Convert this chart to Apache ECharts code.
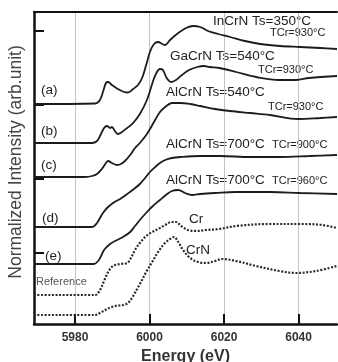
<!DOCTYPE html>
<html>
<head>
<meta charset="utf-8">
<script src="https://cdn.jsdelivr.net/npm/echarts@6/dist/echarts.min.js"></script>
<style>
  html, body { margin: 0; padding: 0; background: #fff; }
  #chart-xanes { width: 338px; height: 362px; }
</style>
</head>
<body>
<div id="chart-xanes"></div>
<script>
// energy (eV), intensity (arb. unit, offset per spectrum)
const energyTicks = [5980, 6000, 6020, 6040];
const intensityTicks = [74, 148, 222, 296];

const spectrumA = [
  [5969, 223], [5985.4, 223.5], [5986.7, 227], [5987.5, 235], [5988.3, 244], [5988.9, 245],
  [5989.9, 242], [5991.5, 238], [5993.2, 235], [5994.2, 234.5], [5995.6, 238], [5996.9, 242],
  [5998.0, 249], [5999.1, 262], [6000.1, 275], [6001.2, 283], [6002.3, 285], [6003.4, 283],
  [6004.2, 282], [6005.5, 287], [6007.7, 294], [6009.8, 299], [6011.7, 301], [6013.6, 300],
  [6015.7, 296], [6018.4, 293], [6021.6, 290], [6025.6, 286], [6029.7, 283], [6035, 281],
  [6040.4, 280], [6045.8, 279], [6050.3, 278]
];
const spectrumB = [
  [5969, 184], [5984.6, 184], [5985.9, 186], [5986.7, 191], [5987.8, 199], [5988.6, 201],
  [5989.4, 199], [5989.9, 200], [5990.7, 196], [5991.5, 193], [5992.6, 195], [5994.0, 199],
  [5995.6, 204], [5997.4, 213], [5999.3, 227], [6000.7, 243], [6001.7, 253], [6002.8, 258],
  [6003.6, 257], [6004.6, 249], [6005.8, 245], [6007.1, 247], [6008.7, 252], [6010.6, 257],
  [6012.8, 260], [6014.6, 261], [6016.2, 260], [6018.7, 259], [6023.2, 255], [6028.6, 250],
  [6034.8, 247], [6039.3, 247], [6042.8, 249], [6050.3, 251]
];
const spectrumC = [
  [5969, 150], [5982.7, 150], [5984.6, 151], [5985.9, 153], [5987.2, 158], [5988.3, 164],
  [5988.9, 166], [5989.9, 164], [5991.3, 162], [5992.3, 163], [5993.4, 166], [5994.8, 172],
  [5996.1, 179], [5997.4, 184], [5999.3, 193], [6001.5, 207], [6002.8, 215], [6004.2, 220],
  [6006, 224], [6008.2, 224], [6010.9, 223], [6013.6, 221], [6017.6, 218], [6021.6, 216],
  [6027, 214], [6032.3, 212], [6040, 208], [6045.8, 209], [6050.3, 210]
];
const spectrumD = [
  [5969, 100], [5984.6, 100], [5985.9, 104], [5986.7, 109], [5987.5, 114], [5988.6, 119],
  [5990.2, 124], [5992.1, 128], [5994.0, 133], [5995.8, 138], [5997.4, 143], [5998.8, 149],
  [6000.1, 155], [6001.5, 160], [6002.8, 164], [6004.2, 167], [6006, 169], [6008.2, 170],
  [6013.6, 171], [6018.9, 171], [6027, 170], [6035, 170], [6043, 171], [6050.3, 172]
];
const spectrumE = [
  [5969, 63], [5985.1, 63], [5986.2, 66], [5987, 71], [5987.8, 77], [5989.4, 83],
  [5991.3, 87], [5992.9, 90], [5994.8, 95], [5996.1, 101], [5997.4, 107], [5999.3, 115],
  [6000.9, 121], [6002.8, 127], [6004.4, 132], [6006, 136], [6007.7, 137], [6009.5, 134],
  [6011.4, 132], [6013.6, 133], [6017.6, 134], [6023.2, 135], [6032.3, 135], [6040.4, 134],
  [6050.3, 133]
];
const refCr = [
  [5969, 32], [5985.4, 32], [5986.7, 37], [5987.8, 46], [5988.9, 55], [5990.2, 61],
  [5992.1, 63], [5994, 64], [5995, 69], [5996.1, 77], [5997.4, 84], [5999.1, 91],
  [6000.7, 95], [6002.3, 98], [6004.2, 102], [6005.8, 105], [6007.1, 105], [6008.5, 101],
  [6010.3, 97], [6012.5, 96], [6015.2, 97], [6018.7, 98], [6023.2, 101], [6032.1, 103],
  [6041, 103], [6046.3, 102], [6050.3, 99]
];
const refCrN = [
  [5969, 12], [5985.4, 12], [5986.7, 14], [5988.6, 18], [5990.7, 21], [5992.9, 22],
  [5994.2, 24], [5995.6, 31], [5997.4, 43], [5999.1, 55], [6000.7, 65], [6002.3, 75],
  [6003.9, 83], [6005.5, 88], [6006.6, 90], [6007.7, 85], [6009, 77], [6010.9, 69],
  [6013, 65], [6015.2, 64], [6017.6, 66], [6019.5, 68], [6023.2, 66], [6028.6, 61],
  [6034.8, 56], [6039.3, 54], [6044.7, 56], [6050.3, 61]
];

let chart = echarts.init(document.getElementById("chart-xanes"));

const font = '"Liberation Sans", Arial, sans-serif';

function solid(data) {
  return {
    type: "line",
    data: data,
    showSymbol: false,
    smooth: 0.35,
    silent: true,
    lineStyle: { color: "#1c1c1c", width: 1.8 },
  };
}
function dotted(data) {
  return {
    type: "line",
    data: data,
    showSymbol: false,
    smooth: 0.35,
    silent: true,
    lineStyle: { color: "#2a2a2a", width: 2.2, type: [2, 1.6], cap: "butt" },
  };
}

function label(text, x, y, size, color) {
  return {
    type: "text",
    x: x,
    y: y,
    style: {
      text: text,
      fill: color || "#222",
      font: size + "px " + font,
      verticalAlign: "middle",
    },
  };
}

let option = {
  animation: false,
  grid: { left: 34, right: 1, top: 12, bottom: 38, outerBoundsMode: "none", containLabel: false },
  xAxis: [
    {
      type: "value",
      min: 5969,
      max: 6050.3,
      axisLine: { lineStyle: { color: "#111", width: 2.5 } },
      axisTick: {
        customValues: energyTicks,
        inside: true,
        length: 10,
        lineStyle: { color: "#111", width: 2 },
      },
      axisLabel: {
        customValues: energyTicks,
        formatter: function (v) {
          return String(v);
        },
        color: "#333",
        fontSize: 12,
        fontWeight: "bold",
        fontFamily: font,
        margin: 8,
      },
      splitLine: {
        show: true,
        lineStyle: { color: "#c4c4c4", width: 1 },
      },
      name: "Energy (eV)",
      nameLocation: "middle",
      nameGap: 24,
      nameTextStyle: { color: "#333", fontSize: 16, fontWeight: "bold", fontFamily: font },
    },
    {
      type: "value",
      position: "top",
      min: 5969,
      max: 6050.3,
      axisLine: { lineStyle: { color: "#111", width: 2 } },
      axisTick: { show: false },
      axisLabel: { show: false },
      splitLine: { show: false },
    },
  ],
  yAxis: {
    type: "value",
    min: 3,
    max: 315,
    axisLine: { show: true, lineStyle: { color: "#111", width: 2.5 } },
    axisTick: {
      show: true,
      customValues: intensityTicks,
      inside: true,
      length: 10,
      lineStyle: { color: "#111", width: 2 },
    },
    axisLabel: { show: false },
    splitLine: { show: false },
  },
  graphic: [
    {
      type: "text",
      x: 16,
      y: 162,
      rotation: Math.PI / 2,
      style: {
        text: "Normalized Intensity (arb.unit)",
        fill: "#444",
        font: "17.5px " + font,
        align: "center",
        verticalAlign: "middle",
      },
    },
    label("InCrN Ts=350°C", 213, 21, 13.5),
    label("TCr=930°C", 270, 33, 11),
    label("GaCrN Ts=540°C", 170, 56, 13.5),
    label("TCr=930°C", 258, 70, 11),
    label("AlCrN Ts=540°C", 166, 92, 13.5),
    label("TCr=930°C", 268, 107, 11),
    label("AlCrN Ts=700°C", 166, 144, 13.5),
    label("TCr=900°C", 272, 145, 11),
    label("AlCrN Ts=700°C", 166, 180, 13.5),
    label("TCr=960°C", 272, 181, 11),
    label("Cr", 189, 219, 13.5),
    label("CrN", 186, 250, 13.5),
    label("Reference", 36, 282, 11, "#555"),
    label("(a)", 41, 90, 13.5),
    label("(b)", 41, 131, 13.5),
    label("(c)", 41, 165, 13.5),
    label("(d)", 42, 218, 13.5),
    label("(e)", 45, 256, 13.5),
  ],
  series: [
    solid(spectrumA),
    solid(spectrumB),
    solid(spectrumC),
    solid(spectrumD),
    solid(spectrumE),
    dotted(refCr),
    dotted(refCrN),
  ],
};

chart.setOption(option);
</script>
</body>
</html>
